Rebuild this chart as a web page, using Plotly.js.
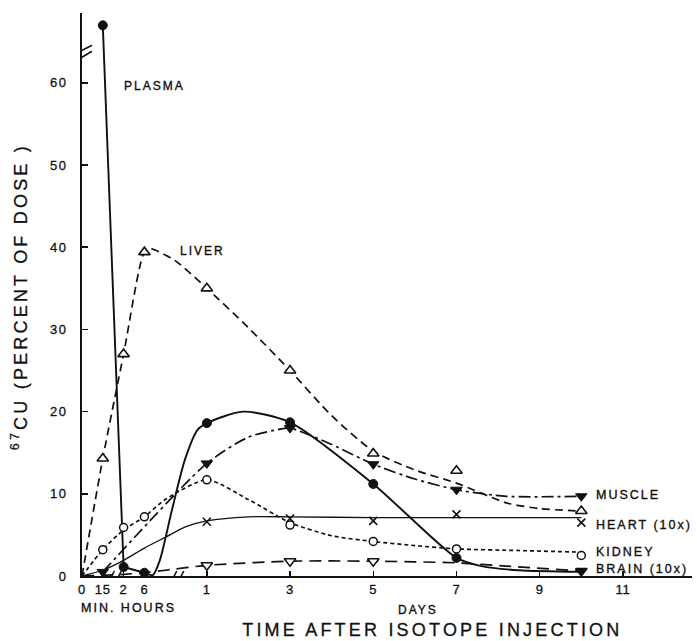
<!DOCTYPE html>
<html>
<head>
<meta charset="utf-8">
<script src="https://cdn.plot.ly/plotly-3.0.1.min.js"></script>
<style>
  html, body { margin: 0; padding: 0; background: #fff; }
  #chart { width: 697px; height: 641px; }
  .xtick text { letter-spacing: 0.8px; stroke: #111; stroke-width: 0.3px; }
  .ytick text { letter-spacing: 1.5px; stroke: #111; stroke-width: 0.3px; }
  .annotation text { letter-spacing: 2px; stroke: #111; stroke-width: 0.35px; }
  .annotation[data-index="0"] text, .annotation[data-index="1"] text { letter-spacing: 3.2px; stroke-width: 0.3px; }
</style>
</head>
<body>
<div id="chart"></div>
<script>
// ---- axis (broken time scale: minutes | hours | days) ----
const xTickVals = [-2, -1.5, -1, -0.5, 1, 3, 5, 7, 9, 11];
const xTickText = ['0', '15', '2', '6', '1', '3', '5', '7', '9', '11'];
const yTickVals = [0, 10, 20, 30, 40, 50, 60];
const xBreaks = [-1.2, 0.3];
const yBreak = 63.6;

// ---- PLASMA (filled circles, solid) ----
const plasmaX = [-1.5, -1, -0.5, 1, 3, 5, 7];
const plasmaY = [67, 1.1, 0.4, 18.6, 18.7, 11.2, 2.2];
const plasmaSpikeX = [-1.5, -1.0];
const plasmaSpikeY = [67, 1.1];
const plasmaCurveX = [-1.0, -0.5, -0.3, -0.13, 0.16, 0.47, 0.78, 1.0, 1.87, 3.0, 5.0, 7.0, 7.6, 8.5, 10.0];
const plasmaCurveY = [1.1, 0.4, 0.1, 1.9, 8.0, 14.1, 17.8, 18.6, 20.0, 18.7, 11.2, 2.2, 1.2, 0.7, 0.5];

// ---- LIVER (open triangles, dashed) ----
const liverX = [-1.5, -1, -0.5, 1, 3, 5, 7, 10];
const liverY = [14.3, 27, 39.4, 35.0, 25.0, 14.9, 12.8, 7.9];
const liverCurveX = [-2, -1.5, -1, -0.5, -0.35, 0.23, 1, 2, 3, 4, 5, 6, 7, 8.2, 9, 10];
const liverCurveY = [0, 14.3, 27, 39.4, 39.8, 38.4, 35, 30.2, 25.0, 19.5, 15.2, 12.9, 11.3, 8.9, 8.2, 7.9];

// ---- MUSCLE (filled down triangles, dash-dot) ----
const muscleX = [-1.5, 1, 3, 5, 7, 10];
const muscleY = [0.5, 13.7, 18.0, 13.6, 10.5, 9.7];
const muscleCurveX = [-1.5, 1, 2, 2.8, 3, 4, 5, 6, 7, 8.2, 10];
const muscleCurveY = [0.5, 13.7, 16.9, 17.9, 18.0, 16.0, 13.6, 11.8, 10.5, 9.7, 9.7];

// ---- HEART x10 (crosses, solid thin) ----
const heartX = [1, 3, 5, 7, 10];
const heartY = [6.6, 7.0, 6.7, 7.5, 6.5];
const heartCurveX = [-2, -1.5, -1, -0.5, 0, 0.5, 1, 2, 3, 5, 7, 10];
const heartCurveY = [0, 0.7, 1.9, 3.4, 4.7, 6.0, 6.7, 7.2, 7.2, 7.1, 7.1, 7.1];

// ---- KIDNEY (open circles, short dashes) ----
const kidneyX = [-1.5, -1, -0.5, 1, 3, 5, 7, 10];
const kidneyY = [3.2, 5.9, 7.2, 11.7, 6.2, 4.2, 3.3, 2.5];
const kidneyCurveX = [-2, -1.5, -1, -0.5, 0, 1, 2, 3, 4, 5, 6, 7, 8.5, 10];
const kidneyCurveY = [0, 3.2, 5.6, 7.2, 9.3, 11.7, 9.3, 6.5, 4.9, 4.2, 3.7, 3.3, 3.1, 2.9];

// ---- BRAIN x10 (open down triangles, long dashes) ----
const brainX = [1, 3, 5, 10];
const brainY = [1.3, 1.8, 1.8, 0.6];
const brainSymbols = ['triangle-down', 'triangle-down', 'triangle-down', 'triangle-down'];
const brainFill = ['#ffffff', '#ffffff', '#ffffff', '#111111'];
const brainCurveX = [-2, -1, -0.5, 0, 1, 3, 5, 7, 8.2, 10];
const brainCurveY = [0, 0.2, 0.4, 0.7, 1.3, 1.8, 1.8, 1.6, 1.2, 0.6];

// ---- labels ----
const seriesLabels = ['PLASMA', 'LIVER', 'MUSCLE', 'HEART (10x)', 'KIDNEY', 'BRAIN (10x)'];

const INK = '#111111';
const FONT = '"Liberation Sans", Arial, sans-serif';

function curve(x, y, dash, width, shape) {
  return { x: x, y: y, type: 'scatter', mode: 'lines', hoverinfo: 'skip', showlegend: false,
           line: { color: INK, width: width, dash: dash, shape: shape || 'spline', smoothing: 0.7 } };
}
function marks(x, y, symbol, size, fill, lw) {
  return { x: x, y: y, type: 'scatter', mode: 'markers', showlegend: false, cliponaxis: false,
           marker: { symbol: symbol, size: size, color: fill, line: { color: INK, width: lw } } };
}

const traces = [
  curve(liverCurveX, liverCurveY, '8px,5px', 1.7),
  curve(muscleCurveX, muscleCurveY, '12px,4px,3px,4px', 1.7),
  curve(heartCurveX, heartCurveY, 'solid', 1.3),
  curve(kidneyCurveX, kidneyCurveY, '4px,3px', 1.7),
  curve(brainCurveX, brainCurveY, '12px,7px', 1.7),
  curve(plasmaSpikeX, plasmaSpikeY, 'solid', 1.9, 'linear'),
  curve(plasmaCurveX, plasmaCurveY, 'solid', 1.9),
  marks(liverX, liverY, 'triangle-up', 10, '#ffffff', 1.6),
  marks(muscleX, muscleY, 'triangle-down', 10, INK, 1),
  marks(heartX, heartY, 'x-thin', 8, INK, 1.6),
  marks(kidneyX, kidneyY, 'circle', 8, '#ffffff', 1.5),
  { x: brainX, y: brainY, type: 'scatter', mode: 'markers', showlegend: false, cliponaxis: false,
    marker: { symbol: brainSymbols, size: 10, color: brainFill, line: { color: INK, width: 1.5 } } },
  marks(plasmaX, plasmaY, 'circle', 9, INK, 1)
];

// axis-break decorations (pixel-sized, anchored on the axes)
const shapes = [];
xBreaks.forEach(function (bx) {
  shapes.push({ type: 'rect', xref: 'x', yref: 'y', xsizemode: 'pixel', ysizemode: 'pixel',
                xanchor: bx, yanchor: 0, x0: -2, x1: 2, y0: -3, y1: 3,
                fillcolor: '#ffffff', line: { width: 0 } });
  shapes.push({ type: 'line', xref: 'x', yref: 'y', xsizemode: 'pixel', ysizemode: 'pixel',
                xanchor: bx, yanchor: 0, x0: -6, x1: -1, y0: -5, y1: 5, line: { color: INK, width: 1.6 } });
  shapes.push({ type: 'line', xref: 'x', yref: 'y', xsizemode: 'pixel', ysizemode: 'pixel',
                xanchor: bx, yanchor: 0, x0: 1, x1: 6, y0: -5, y1: 5, line: { color: INK, width: 1.6 } });
});
shapes.push({ type: 'rect', xref: 'x', yref: 'y', xsizemode: 'pixel', ysizemode: 'pixel',
              xanchor: -2, yanchor: yBreak, x0: -3, x1: 3, y0: -4, y1: 1,
              fillcolor: '#ffffff', line: { width: 0 } });
shapes.push({ type: 'line', xref: 'x', yref: 'y', xsizemode: 'pixel', ysizemode: 'pixel',
              xanchor: -2, yanchor: yBreak, x0: -6, x1: 10, y0: 0, y1: 8, line: { color: INK, width: 1.6 } });
shapes.push({ type: 'line', xref: 'x', yref: 'y', xsizemode: 'pixel', ysizemode: 'pixel',
              xanchor: -2, yanchor: yBreak, x0: -5, x1: 10, y0: -7, y1: 2, line: { color: INK, width: 1.6 } });

const annotations = [
  { text: 'TIME AFTER ISOTOPE INJECTION', xref: 'paper', yref: 'paper', x: 0.575, y: -0.096,
    xanchor: 'center', yanchor: 'middle', showarrow: false, font: { family: FONT, size: 18, color: INK } },
  { text: '<sup>67</sup>CU (PERCENT OF DOSE )', xref: 'paper', yref: 'paper', x: -0.102, y: 0.496,
    textangle: -90, xanchor: 'center', yanchor: 'middle', showarrow: false, font: { family: FONT, size: 18, color: INK } },
  { text: 'MIN. HOURS', xref: 'x', yref: 'paper', x: -0.875, y: -0.056, xanchor: 'center', yanchor: 'middle',
    showarrow: false, font: { family: FONT, size: 12.5, color: INK } },
  { text: 'DAYS', xref: 'x', yref: 'paper', x: 6.07, y: -0.061, xanchor: 'center', yanchor: 'middle',
    showarrow: false, font: { family: FONT, size: 12, color: INK } },
  { text: seriesLabels[0], xref: 'x', yref: 'y', x: -1.04, y: 59.6, xanchor: 'left', align: 'left', yanchor: 'middle',
    showarrow: false, font: { family: FONT, size: 12, color: INK } },
  { text: seriesLabels[1], xref: 'x', yref: 'y', x: 0.30, y: 39.5, xanchor: 'left', align: 'left', yanchor: 'middle',
    showarrow: false, font: { family: FONT, size: 12, color: INK } },
  { text: seriesLabels[2], xref: 'x', yref: 'y', x: 10.3, y: 9.8, xanchor: 'left', align: 'left', yanchor: 'middle',
    showarrow: false, font: { family: FONT, size: 12.5, color: INK } },
  { text: seriesLabels[3], xref: 'x', yref: 'y', x: 10.3, y: 6.2, xanchor: 'left', align: 'left', yanchor: 'middle',
    showarrow: false, font: { family: FONT, size: 12.5, color: INK } },
  { text: seriesLabels[4], xref: 'x', yref: 'y', x: 10.3, y: 2.95, xanchor: 'left', align: 'left', yanchor: 'middle',
    showarrow: false, font: { family: FONT, size: 12.5, color: INK } },
  { text: seriesLabels[5], xref: 'x', yref: 'y', x: 10.3, y: 0.85, xanchor: 'left', align: 'left', yanchor: 'middle',
    showarrow: false, font: { family: FONT, size: 12.5, color: INK } }
];

const layout = {
  width: 697, height: 641,
  margin: { l: 82, r: 5, t: 13, b: 65, pad: 0 },
  paper_bgcolor: '#ffffff', plot_bgcolor: '#ffffff',
  showlegend: false,
  font: { family: FONT, color: INK },
  xaxis: {
    range: [-2, 12.66], tickmode: 'array', tickvals: xTickVals, ticktext: xTickText,
    showgrid: false, zeroline: false, showline: true, linecolor: INK, linewidth: 2,
    ticks: 'inside', ticklen: 5, tickwidth: 1.5, tickcolor: INK, ticklabelstandoff: 0,
    tickfont: { family: FONT, size: 13, color: INK }, fixedrange: true
  },
  yaxis: {
    range: [0, 68.5], tickmode: 'array', tickvals: yTickVals,
    showgrid: false, zeroline: false, showline: true, linecolor: INK, linewidth: 2,
    ticks: 'inside', ticklen: 6, tickwidth: 1.5, tickcolor: INK, ticklabelstandoff: 10,
    tickfont: { family: FONT, size: 13, color: INK }, fixedrange: true
  },
  shapes: shapes,
  annotations: annotations
};

Plotly.newPlot('chart', traces, layout, { staticPlot: true, displayModeBar: false });
</script>
</body>
</html>
